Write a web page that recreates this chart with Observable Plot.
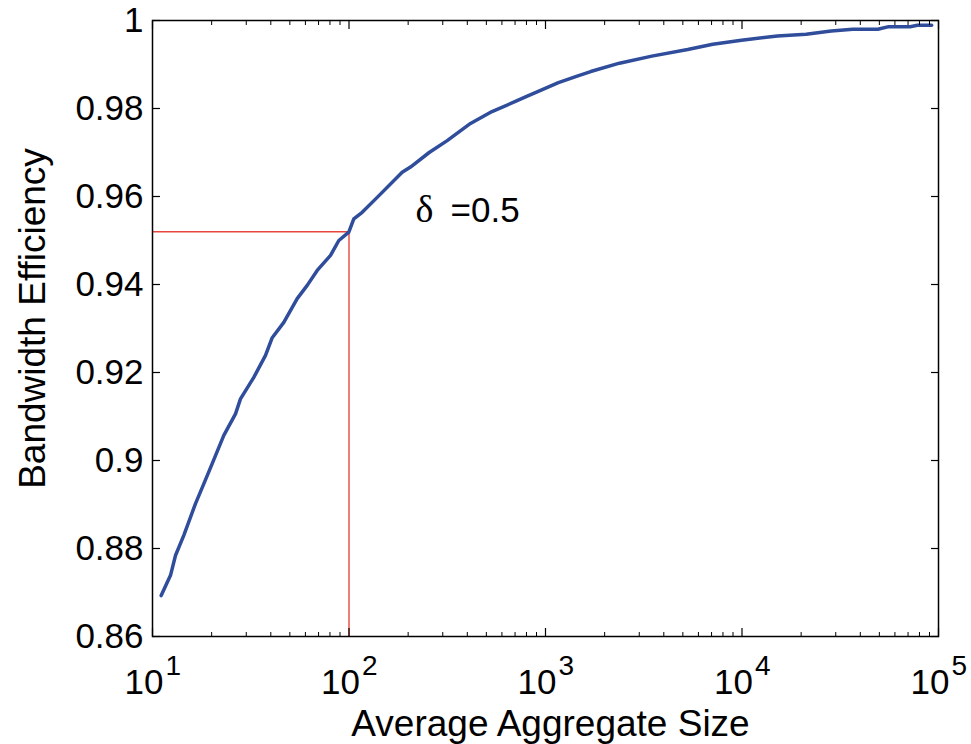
<!DOCTYPE html>
<html><head><meta charset="utf-8">
<script src="https://cdn.jsdelivr.net/npm/d3@7"></script>
<script src="https://cdn.jsdelivr.net/npm/@observablehq/plot@0.6"></script>
<style>body{margin:0;background:#fff}</style>
</head><body><div id="chart"></div>
<script>
const sizes = [11.07,12.35,13.09,14.43,16.55,18.24,20.13,23.06,26.45,28.04,32.77,37.59,40.67,46.58,54.5,61.28,68.89,80.52,88.76,99.77,105.8,116.7,139.2,186.5,205.6,255.9,316,415.3,534.2,702.9,796.9,963.2,1163,1437,1698,2380,3475,5292,7102,9943,15150,21200,28440,36640,49150,55800,71780,78090,92340];
const efficiency = [0.8693,0.8739,0.8784,0.8830,0.8902,0.8947,0.8993,0.9057,0.9106,0.9140,0.9189,0.9239,0.9279,0.9314,0.9368,0.9398,0.9432,0.9466,0.9500,0.9519,0.9549,0.9564,0.9598,0.9655,0.9667,0.9700,0.9727,0.9766,0.9793,0.9816,0.9827,0.9843,0.9859,0.9873,0.9884,0.9903,0.9919,0.9934,0.9946,0.9955,0.9965,0.9969,0.9976,0.9980,0.9980,0.9986,0.9986,0.9989,0.9989];
const xMajorTicks = [10,100,1000,10000,100000];
const xExponents = ["1","2","3","4","5"];
const yTicks = [0.86,0.88,0.90,0.92,0.94,0.96,0.98,1.00];
const yTickLabels = ["0.86","0.88","0.9","0.92","0.94","0.96","0.98","1"];
const refSize = 100;
const refEff = 0.952;
const annotSize = [218];
const annotEff = [0.9542];
const annotSymbol = "\u03B4";
const annotValue = "=0.5";
const xTitle = "Average Aggregate Size";
const yTitle = "Bandwidth Efficiency";

const data = sizes.map((s,i)=>({size:s, eff:efficiency[i]}));
const minorTicks = [];
for (let k = 1; k < 5; k++) for (let m = 2; m <= 9; m++) minorTicks.push(m * 10 ** k);

const font = "Liberation Sans, Arial, Helvetica, sans-serif";
const chart = Plot.plot({
  width: 971, height: 744,
  marginLeft: 152, marginRight: 33, marginTop: 20, marginBottom: 108,
  x: {type: "log", domain: [10, 100000]},
  y: {domain: [0.86, 1]},
  style: {fontFamily: font, background: "white", color: "black"},
  marks: [
    Plot.ruleX([refSize], {y1: yTicks[0], y2: refEff, stroke: "#e8453c", strokeWidth: 1.4}),
    Plot.ruleY([refEff], {x1: xMajorTicks[0], x2: refSize, stroke: "#e8453c", strokeWidth: 1.4}),
    Plot.line(data, {x: "size", y: "eff", stroke: "#2f4d9b", strokeWidth: 3.5}),
    Plot.axisY({ticks: yTicks, tickFormat: (d) => yTickLabels[yTicks.indexOf(d)], tickSize: -8, tickPadding: 17, fontSize: 35, label: null, strokeWidth: 1.2}),
    Plot.axisY({anchor: "right", ticks: yTicks, tickFormat: () => "", tickSize: -8, label: null, strokeWidth: 1.2}),
    Plot.axisX({ticks: xMajorTicks, tickFormat: () => "", tickSize: -8, label: null, strokeWidth: 1.2}),
    Plot.axisX({anchor: "top", ticks: xMajorTicks, tickFormat: () => "", tickSize: -8, label: null, strokeWidth: 1.2}),
    Plot.axisX({ticks: minorTicks, tickFormat: () => "", tickSize: -4, label: null, strokeWidth: 1}),
    Plot.axisX({anchor: "top", ticks: minorTicks, tickFormat: () => "", tickSize: -4, label: null, strokeWidth: 1}),
    Plot.frame({stroke: "black", strokeWidth: 1.5}),
    Plot.text(xMajorTicks, {x: (d) => d, text: () => "10", frameAnchor: "bottom", textAnchor: "end", lineAnchor: "bottom", dx: 11, dy: 57, fontSize: 35}),
    Plot.text(xMajorTicks, {x: (d) => d, text: (d, i) => xExponents[i], frameAnchor: "bottom", textAnchor: "start", lineAnchor: "bottom", dx: 13, dy: 38, fontSize: 28}),
    Plot.text([xTitle], {frameAnchor: "bottom", textAnchor: "middle", lineAnchor: "bottom", dx: 5, dy: 99, fontSize: 37}),
    Plot.text([yTitle], {frameAnchor: "left", textAnchor: "middle", lineAnchor: "middle", rotate: -90, dx: -119, dy: -10, fontSize: 37}),
    Plot.text(annotSize, {x: (d) => d, y: (d, i) => annotEff[i], text: () => annotSymbol, textAnchor: "start", lineAnchor: "bottom", fontSize: 38, fontFamily: "Liberation Serif, Times New Roman, serif"}),
    Plot.text(annotSize, {x: (d) => d, y: (d, i) => annotEff[i], text: () => annotValue, textAnchor: "start", lineAnchor: "bottom", dx: 35, fontSize: 35})
  ]
});
document.getElementById("chart").appendChild(chart);
</script>
</body></html>
